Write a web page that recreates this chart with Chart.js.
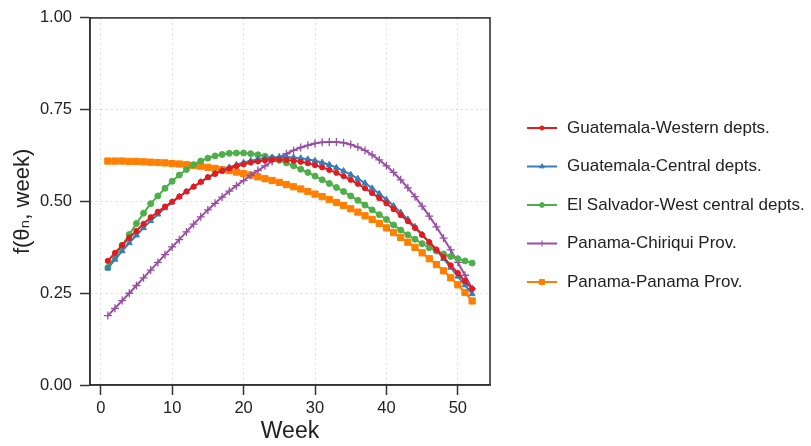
<!DOCTYPE html>
<html>
<head>
<meta charset="utf-8">
<script src="https://cdn.jsdelivr.net/npm/chart.js@4"></script>
<style>
  html, body { margin: 0; padding: 0; background: #fff; }
  #wrap { width: 811px; height: 446px; position: relative; }
</style>
</head>
<body>
<div id="wrap"><canvas id="chartWeek"></canvas></div>
<script>
const weeks = [1, 2, 3, 4, 5, 6, 7, 8, 9, 10, 11, 12, 13, 14, 15, 16, 17, 18, 19, 20, 21, 22, 23, 24, 25, 26,
  27, 28, 29, 30, 31, 32, 33, 34, 35, 36, 37, 38, 39, 40, 41, 42, 43, 44, 45, 46, 47, 48, 49, 50, 51, 52]

const seriesNames = ['Guatemala-Western depts.', 'Guatemala-Central depts.', 'El Salvador-West central depts.',
  'Panama-Chiriqui Prov.', 'Panama-Panama Prov.']

const guatWestern = [0.338, 0.360, 0.381, 0.401, 0.420, 0.439, 0.457, 0.472, 0.486, 0.499, 0.513, 0.527, 0.540,
  0.553, 0.566, 0.575, 0.583, 0.590, 0.596, 0.601, 0.606, 0.609, 0.612, 0.614, 0.614, 0.613,
  0.611, 0.608, 0.604, 0.599, 0.593, 0.586, 0.578, 0.569, 0.559, 0.548, 0.536, 0.523, 0.509,
  0.495, 0.479, 0.463, 0.446, 0.428, 0.409, 0.389, 0.369, 0.348, 0.326, 0.305, 0.283, 0.262]

const guatCentral = [0.318, 0.342, 0.365, 0.387, 0.408, 0.428, 0.447, 0.465, 0.482, 0.498, 0.513, 0.527, 0.540,
  0.553, 0.565, 0.576, 0.585, 0.593, 0.600, 0.606, 0.611, 0.615, 0.618, 0.620, 0.621, 0.621,
  0.620, 0.618, 0.615, 0.611, 0.606, 0.600, 0.592, 0.583, 0.573, 0.562, 0.550, 0.536, 0.521,
  0.505, 0.488, 0.470, 0.451, 0.431, 0.410, 0.389, 0.367, 0.344, 0.320, 0.296, 0.272, 0.248]

const salvadorWest = [0.320, 0.350, 0.380, 0.410, 0.440, 0.468, 0.494, 0.515, 0.536, 0.555, 0.572, 0.587, 0.600,
  0.610, 0.618, 0.624, 0.628, 0.631, 0.632, 0.632, 0.630, 0.627, 0.623, 0.618, 0.612, 0.605,
  0.597, 0.588, 0.579, 0.569, 0.559, 0.549, 0.538, 0.527, 0.515, 0.503, 0.490, 0.477, 0.464,
  0.451, 0.436, 0.422, 0.409, 0.397, 0.385, 0.374, 0.365, 0.357, 0.350, 0.344, 0.338, 0.332]

const chiriqui = [0.189, 0.209, 0.230, 0.250, 0.271, 0.292, 0.313, 0.334, 0.355, 0.376, 0.396, 0.417, 0.438,
  0.458, 0.477, 0.495, 0.512, 0.528, 0.543, 0.557, 0.571, 0.584, 0.597, 0.609, 0.620, 0.630,
  0.639, 0.647, 0.653, 0.658, 0.661, 0.662, 0.662, 0.660, 0.655, 0.648, 0.639, 0.627, 0.613,
  0.597, 0.579, 0.559, 0.537, 0.513, 0.487, 0.460, 0.431, 0.400, 0.368, 0.334, 0.299, 0.262]

const panamaProv = [0.610, 0.610, 0.610, 0.609, 0.609, 0.608, 0.607, 0.606, 0.605, 0.603, 0.602, 0.600, 0.598,
  0.596, 0.593, 0.590, 0.587, 0.584, 0.580, 0.576, 0.572, 0.567, 0.562, 0.557, 0.552, 0.546,
  0.540, 0.534, 0.527, 0.520, 0.513, 0.505, 0.497, 0.489, 0.480, 0.471, 0.461, 0.451, 0.440,
  0.428, 0.415, 0.402, 0.389, 0.375, 0.360, 0.344, 0.328, 0.311, 0.292, 0.273, 0.252, 0.229]

const xTicks = [0, 10, 20, 30, 40, 50]
const yTicks = [0, 0.25, 0.5, 0.75, 1]

const allSeries = [guatWestern, guatCentral, salvadorWest, chiriqui, panamaProv]
const colors = ['#e41a1c', '#377eb8', '#4daf4a', '#984ea3', '#ff7f00']
const markers = ['circle', 'triangle', 'circle', 'cross', 'rect']
const markerSize = [2.6, 3.4, 3, 4, 4.4]

const FONT = '"Liberation Sans", Arial, "DejaVu Sans", sans-serif'

const toPoints = (vals) => weeks.map((w, i) => ({ x: w, y: vals[i] }))

// box round the plot + legend at the right side
const framePlugin = {
  id: 'frame',
  afterDraw(chart) {
    const { ctx, chartArea } = chart
    ctx.save()
    ctx.strokeStyle = '#333'
    ctx.lineWidth = 1.6
    ctx.strokeRect(chartArea.left, chartArea.top, chartArea.right - chartArea.left, chartArea.bottom - chartArea.top)

    const lx = chartArea.right + 37
    chart.data.datasets.forEach((ds, i) => {
      const y = 128 + i * 38.5
      ctx.strokeStyle = ds.borderColor
      ctx.fillStyle = ds.borderColor
      ctx.lineWidth = 2
      ctx.beginPath()
      ctx.moveTo(lx, y)
      ctx.lineTo(lx + 30, y)
      ctx.stroke()
      ctx.lineWidth = 1
      Chart.helpers.drawPoint(ctx, { pointStyle: ds.pointStyle, radius: ds.pointRadius * 0.8, borderWidth: 1, rotation: 0 }, lx + 15, y)
      ctx.fillStyle = '#222'
      ctx.font = '17px ' + FONT
      ctx.textBaseline = 'middle'
      ctx.textAlign = 'left'
      ctx.fillText(ds.label, lx + 40, y)
    })
    ctx.restore()
  }
}

const datasets = allSeries.map((vals, i) => ({
  label: seriesNames[i],
  data: toPoints(vals),
  borderColor: colors[i],
  backgroundColor: colors[i],
  pointBackgroundColor: colors[i],
  pointBorderColor: colors[i],
  pointStyle: markers[i],
  pointRadius: markerSize[i],
  pointBorderWidth: markers[i] === 'cross' ? 1.3 : 1,
  borderWidth: 2,
  tension: 0,
  fill: false
}))

const ctx = document.getElementById('chartWeek')
new Chart(ctx, {
  type: 'line',
  data: { datasets: datasets },
  options: {
    responsive: true,
    maintainAspectRatio: false,
    animation: false,
    layout: { padding: { left: 0, right: 321, top: 13, bottom: 0 } },
    plugins: {
      legend: { display: false },
      tooltip: { enabled: false }
    },
    scales: {
      x: {
        type: 'linear',
        min: -1.5,
        max: 54.5,
        afterBuildTicks: (scale) => { scale.ticks = xTicks.map(v => ({ value: v })) },
        afterFit: (scale) => { scale.height = 61 },
        grid: {
          color: 'rgba(0,0,0,0.13)',
          tickColor: '#333',
          tickLength: 10,
          tickWidth: 1.5,
          tickBorderDash: [],
          lineWidth: 1
        },
        border: { color: '#333', width: 1.6, dash: [2, 3] },
        ticks: { color: '#222', padding: 4, font: { size: 16.5, family: FONT }, maxRotation: 0 },
        title: { display: true, text: 'Week', color: '#222', font: { size: 23, family: FONT }, padding: { top: 0, bottom: 1 } }
      },
      y: {
        min: 0,
        max: 1,
        afterBuildTicks: (scale) => { scale.ticks = yTicks.map(v => ({ value: v })) },
        afterFit: (scale) => { scale.width = 90 },
        grid: {
          color: 'rgba(0,0,0,0.13)',
          tickColor: '#333',
          tickLength: 10,
          tickWidth: 1.5,
          tickBorderDash: [],
          lineWidth: 1
        },
        border: { color: '#333', width: 1.6, dash: [2, 3] },
        ticks: {
          color: '#222',
          padding: 8,
          font: { size: 16.5, family: FONT },
          callback: (v) => Number(v).toFixed(2)
        },
        title: { display: true, text: 'f(θₙ, week)', color: '#222', font: { size: 22, family: FONT }, padding: { top: 10, bottom: 0 } }
      }
    }
  },
  plugins: [framePlugin]
})
</script>
</body>
</html>
